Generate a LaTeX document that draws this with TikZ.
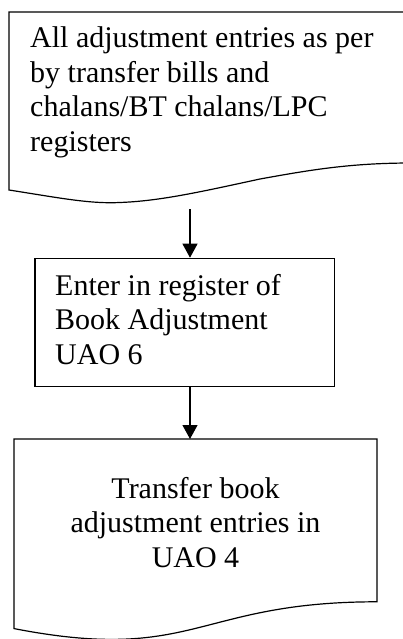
\documentclass[tikz,border=0pt]{standalone}
\usepackage{fontspec}
\setmainfont{Liberation Serif}
\usetikzlibrary{arrows.meta}

\tikzset{
  outline/.style={draw=black, line width=1.2pt, line join=miter},
  flowarrow/.style={draw=black, line width=1.2pt,
    -{Triangle[width=15pt,length=14pt]}},
  boxtext/.style={inner sep=0pt, font=\fontsize{30pt}{34.5pt}\selectfont},
}

\begin{document}
\begin{tikzpicture}[x=1pt, y=-1pt]
  % page frame
  \path[use as bounding box, fill=white] (0,0) rectangle (403,639);
  \clip (0,0) rectangle (403,639);

  % source document (runs off the right edge)
  \path[outline] (412,12) -- (9,12) -- (9,190)
    .. controls (60,198) and (90,204) .. (120,202.5)
    .. controls (160,201) and (200,192) .. (260,179)
    .. controls (310,170) and (350,163) .. (412,163);
  % multi-line nodes: the base anchor sits on the last line
  \node[boxtext, anchor=base west, align=left] (srctext) at (30,151.5)
    {All adjustment entries as per\\by transfer bills and\\chalans/BT chalans/LPC\\registers};
  \coordinate (srcout) at (190,209);

  % register of book adjustment
  \node[outline, minimum width=299.3pt, minimum height=128.4pt, inner sep=0pt]
    (regbox) at (184.65,322.5) {};
  \node[boxtext, anchor=base west, align=left] (regtext) at (55,364)
    {Enter in register of\\Book Adjustment\\UAO 6};

  % transfer document
  \def\dl{14}\def\dt{439}\def\dw{363}\def\dh{203}
  \path[outline] (\dl,\dt) -- ({\dl+\dw},\dt) -- ({\dl+\dw},{\dt+0.80194*\dh})
    .. controls ({\dl+\dw/2},{\dt+0.80194*\dh}) and ({\dl+\dw/2},{\dt+1.1075*\dh})
    .. (\dl,{\dt+0.93389*\dh}) -- cycle;
  \coordinate (dsttop) at (190,\dt);
  \node[boxtext, anchor=base, align=center] (dsttext) at (195.5,567)
    {Transfer book\\adjustment entries in\\UAO 4};

  % connectors
  \draw[flowarrow] (srcout) -- (srcout |- regbox.north);
  \draw[flowarrow] (srcout |- regbox.south) -- (dsttop);
\end{tikzpicture}
\end{document}
